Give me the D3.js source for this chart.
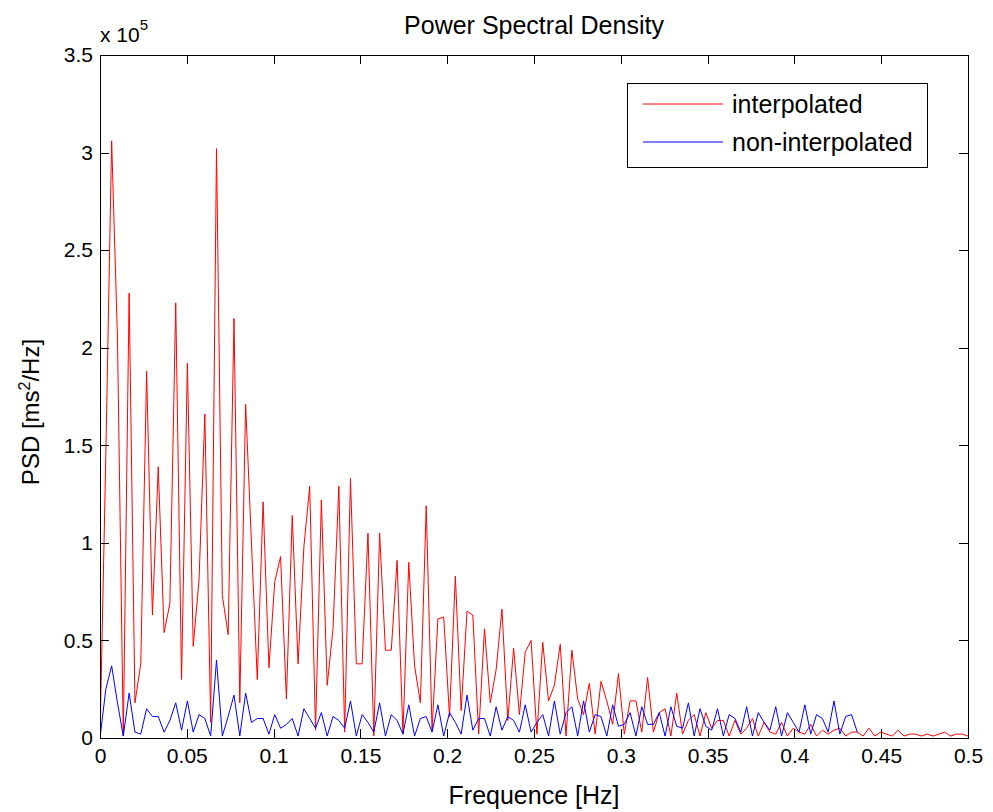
<!DOCTYPE html>
<html>
<head>
<meta charset="utf-8">
<script src="https://cdn.jsdelivr.net/npm/d3@7"></script>
<style>
  body { margin: 0; background: #fff; }
  svg { display: block; font-family: Arial, "Liberation Sans", sans-serif; }
  .axis path, .axis line { stroke: #000; stroke-width: 1; shape-rendering: crispEdges; }
  .axis text { fill: #000; font-size: 21px; }
</style>
</head>
<body>
<div id="chart"></div>
<script>
'use strict';

// frequency step of the PSD grid (Hz)
const freqStep = 0.5 / 149;

// PSD values, x 1e5 ms^2/Hz, one per frequency bin
const interpolated = [
    0.00, 1.45, 3.06, 2.05, 0.01, 2.28, 0.18, 0.38, 1.88, 0.63,
    1.39, 0.54, 0.69, 2.23, 0.30, 1.92, 0.47, 0.81, 1.66, 0.08,
    3.02, 0.73, 0.53, 2.15, 0.18, 1.71, 1.00, 0.30, 1.21, 0.36,
    0.80, 0.93, 0.20, 1.14, 0.38, 0.98, 1.29, 0.04, 1.22, 0.27,
    0.56, 1.29, 0.03, 1.33, 0.38, 0.38, 1.05, 0.01, 1.05, 0.45,
    0.45, 0.91, 0.02, 0.90, 0.37, 0.18, 1.19, 0.04, 0.61, 0.62,
    0.11, 0.83, 0.14, 0.65, 0.63, 0.02, 0.56, 0.18, 0.35, 0.66,
    0.09, 0.46, 0.12, 0.44, 0.50, 0.02, 0.49, 0.19, 0.27, 0.48,
    0.01, 0.45, 0.20, 0.12, 0.28, 0.02, 0.29, 0.19, 0.07, 0.33,
    0.02, 0.19, 0.19, 0.03, 0.31, 0.03, 0.13, 0.15, 0.01, 0.23,
    0.02, 0.09, 0.12, 0.01, 0.13, 0.05, 0.09, 0.09, 0.01, 0.09,
    0.02, 0.05, 0.10, 0.01, 0.08, 0.03, 0.02, 0.08, 0.01, 0.05,
    0.03, 0.02, 0.07, 0.01, 0.04, 0.02, 0.04, 0.05, 0.01, 0.03,
    0.03, 0.01, 0.05, 0.01, 0.03, 0.02, 0.01, 0.04, 0.01, 0.02,
    0.02, 0.01, 0.02, 0.01, 0.02, 0.03, 0.01, 0.02, 0.02, 0.01
];

const nonInterpolated = [
    0.00, 0.25, 0.37, 0.18, 0.01, 0.23, 0.03, 0.02, 0.15, 0.11,
    0.11, 0.03, 0.09, 0.18, 0.04, 0.19, 0.03, 0.12, 0.10, 0.01,
    0.40, 0.01, 0.11, 0.22, 0.01, 0.23, 0.08, 0.10, 0.10, 0.02,
    0.12, 0.05, 0.07, 0.10, 0.01, 0.15, 0.10, 0.05, 0.13, 0.01,
    0.11, 0.09, 0.05, 0.19, 0.01, 0.12, 0.08, 0.03, 0.18, 0.01,
    0.12, 0.09, 0.02, 0.17, 0.01, 0.10, 0.11, 0.03, 0.17, 0.01,
    0.13, 0.08, 0.02, 0.22, 0.04, 0.10, 0.10, 0.01, 0.16, 0.04,
    0.11, 0.09, 0.03, 0.17, 0.03, 0.08, 0.12, 0.01, 0.19, 0.02,
    0.13, 0.16, 0.01, 0.19, 0.03, 0.12, 0.11, 0.01, 0.17, 0.06,
    0.07, 0.13, 0.01, 0.16, 0.07, 0.07, 0.13, 0.01, 0.16, 0.06,
    0.05, 0.18, 0.01, 0.15, 0.06, 0.04, 0.15, 0.01, 0.12, 0.10,
    0.03, 0.16, 0.01, 0.13, 0.08, 0.04, 0.16, 0.01, 0.13, 0.08,
    0.03, 0.17, 0.02, 0.12, 0.10, 0.03, 0.19, 0.02, 0.11, 0.12,
    0.03
];

const xTicks = [0, 0.05, 0.1, 0.15, 0.2, 0.25, 0.3, 0.35, 0.4, 0.45, 0.5];
const yTicks = [0, 0.5, 1, 1.5, 2, 2.5, 3, 3.5];

const seriesNames = ["interpolated", "non-interpolated"];
const seriesColors = ["#ff0000", "#0000ff"];

function psdChart(config) {
    config.selector = config.selector || "#chart";
    config.width = config.width || 993;
    config.height = config.height || 812;
    config.margin = config.margin || { top: 55, right: 25, bottom: 74, left: 100 };
    config.labelSize = config.labelSize || 25;

    let m = config.margin;

    let x = d3.scaleLinear()
        .domain([0, 0.5])
        .range([m.left, config.width - m.right]);

    let y = d3.scaleLinear()
        .domain([0, 3.5])
        .range([config.height - m.bottom, m.top]);

    let svg = d3.select(config.selector)
        .append("svg")
        .attr("width", config.width)
        .attr("height", config.height);

    let series = [interpolated, nonInterpolated];

    let line = d3.line()
        .x((d, i) => x(i * freqStep))
        .y(d => y(d));

    svg.append("clipPath").attr("id", "plot-clip")
        .append("rect")
        .attr("x", m.left).attr("y", m.top)
        .attr("width", x(0.5) - m.left).attr("height", y(0) - m.top);

    svg.append("g")
        .attr("clip-path", "url(#plot-clip)")
        .selectAll("path")
        .data(series)
        .enter().append("path")
        .attr("fill", "none")
        .attr("stroke", (d, i) => seriesColors[i])
        .attr("stroke-width", 1)
        .attr("d", line);

    // MATLAB style box with inward ticks
    let tickFmt = d => d3.format("")(d);

    svg.append("g").attr("class", "axis")
        .attr("transform", `translate(0,${y(0)})`)
        .call(d3.axisBottom(x).tickValues(xTicks).tickSize(-9).tickSizeOuter(0).tickPadding(10).tickFormat(tickFmt));

    svg.append("g").attr("class", "axis")
        .attr("transform", `translate(0,${y(3.5)})`)
        .call(d3.axisTop(x).tickValues(xTicks).tickSize(-9).tickSizeOuter(0).tickFormat(""));

    svg.append("g").attr("class", "axis")
        .attr("transform", `translate(${x(0)},0)`)
        .call(d3.axisLeft(y).tickValues(yTicks).tickSize(-9).tickSizeOuter(0).tickPadding(7).tickFormat(tickFmt));

    svg.append("g").attr("class", "axis")
        .attr("transform", `translate(${x(0.5)},0)`)
        .call(d3.axisRight(y).tickValues(yTicks).tickSize(-9).tickSizeOuter(0).tickFormat(""));

    // exponent marker above the y axis
    let expo = svg.append("text")
        .attr("x", x(0))
        .attr("y", 42)
        .attr("font-size", 21);
    expo.append("tspan").text("x 10");
    expo.append("tspan").attr("dy", -12).attr("font-size", 15).text("5");

    svg.append("text")
        .attr("x", (x(0) + x(0.5)) / 2)
        .attr("y", 34)
        .attr("text-anchor", "middle")
        .attr("font-size", config.labelSize)
        .text("Power Spectral Density");

    svg.append("text")
        .attr("x", (x(0) + x(0.5)) / 2)
        .attr("y", 804)
        .attr("text-anchor", "middle")
        .attr("font-size", config.labelSize)
        .text("Frequence [Hz]");

    let ylab = svg.append("text")
        .attr("transform", `translate(39,412) rotate(-90)`)
        .attr("text-anchor", "middle")
        .attr("font-size", 24);
    ylab.append("tspan").text("PSD [ms");
    ylab.append("tspan").attr("dy", -9).attr("font-size", 16).text("2");
    ylab.append("tspan").attr("dy", 9).text("/Hz]");

    // legend
    let legend = svg.append("g").attr("transform", "translate(627,83)");
    legend.append("rect")
        .attr("width", 300).attr("height", 84)
        .attr("fill", "#fff").attr("stroke", "#000").attr("stroke-width", 1)
        .attr("shape-rendering", "crispEdges");

    let items = legend.selectAll("g.item")
        .data(seriesNames)
        .enter().append("g")
        .attr("class", "item")
        .attr("transform", (d, i) => `translate(0,${21 + i * 38})`);

    items.append("line")
        .attr("x1", 16).attr("x2", 96)
        .attr("stroke", (d, i) => seriesColors[i])
        .attr("stroke-width", 1);

    items.append("text")
        .attr("x", 105)
        .attr("dy", "0.35em")
        .attr("font-size", config.labelSize)
        .text(d => d);
}

psdChart({ selector: "#chart" });
</script>
</body>
</html>
